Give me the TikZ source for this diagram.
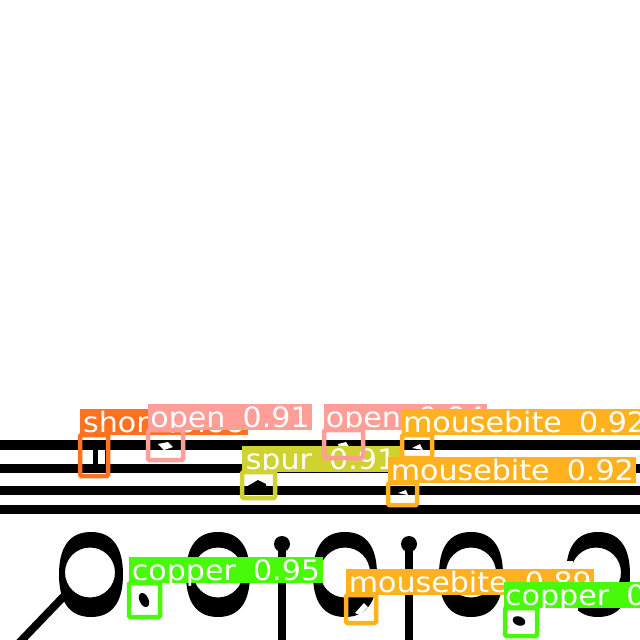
\documentclass[tikz,border=0pt]{standalone}
\usepackage{fontspec}
\setmainfont[FakeStretch=1.07,WordSpace=1.8]{DejaVu Sans}
\tikzset{
    trace/.style={line width=6.6pt},
    pin/.style={line width=5pt},
    flaw/.style={fill=white,draw=none},
    tag/.style={anchor=north west,inner xsep=0.6pt,inner ysep=0pt,text=white,
        font=\fontsize{20}{20}\selectfont,minimum height=18.4pt,text height=16.6pt,text depth=1.8pt},
    box/.style={draw,line width=3.2pt,rounded corners=1pt},
}
\definecolor{shortc}{HTML}{FF701F}
\definecolor{openc}{HTML}{FF9D97}
\definecolor{spurc}{HTML}{CFD231}
\definecolor{bitec}{HTML}{FFB21D}
\definecolor{copperc}{HTML}{48F90A}

\begin{document}
\begin{tikzpicture}[x=0.025cm,y=-0.025cm]
    \useasboundingbox[fill=white] (0,0) rectangle (640,640);
    \clip (0,0) rectangle (640,640);

    % Traces
    \draw[trace] (0,445) -- (640,445);
    \draw[trace] (0,468.5) -- (640,468.5);
    \draw[trace] (0,490.5) -- (640,490.5);
    \draw[trace] (0,509.5) -- (640,509.5);

    % Rings
    \foreach \cx/\ix in {91/90, 218/218, 345/345, 471/471, 598/596} {
        \fill[even odd rule] (\cx-32,574.5)
            .. controls (\cx-32,546.5) and (\cx-21,532) .. (\cx,532)
            .. controls (\cx+21,532) and (\cx+32,546.5) .. (\cx+32,574.5)
            .. controls (\cx+32,602.5) and (\cx+21,617) .. (\cx,617)
            .. controls (\cx-21,617) and (\cx-32,602.5) .. (\cx-32,574.5) -- cycle
            (\ix,572.5) circle [radius=25];
    }
    \fill[white] (555,561) rectangle (573,575);
    \fill[white] (555,575) rectangle (578,625);
    \draw[line width=5.6pt] (66,594) -- (18,644);

    % Pins
    \foreach \px in {282,409} {
        \fill (\px,544) circle [radius=8];
        \draw[pin] (\px,544) -- (\px,645);
    }

    % Defects
    \fill (93,450) rectangle (98,464);
    \fill (105,450) rectangle (108,464);
    \fill[flaw] (158,444) -- (168,442) -- (173,447) -- (164,450) -- cycle;
    \fill (246,487) -- (258,480) -- (266,484) -- (266,487) -- cycle;
    \fill[flaw] (338,444) -- (346,442) -- (350,448) -- (340,450) -- cycle;
    \fill[flaw] (412,448) -- (420,444) -- (423,450) -- cycle;
    \fill[flaw] (398,493) -- (406,490) -- (408,495) -- cycle;
    \fill[flaw] (355,613) -- (364,603) -- (368,607) -- (360,615) -- cycle;
    \fill[rotate around={25:(144,600)}] (144,600) ellipse [x radius=4.5, y radius=7.5];
    \fill[rotate around={70:(519,621)}] (519,621) ellipse [x radius=4.5, y radius=6.5];

    % Detections
    \node[tag,fill=shortc,minimum width=168*0.7087pt] (shorttag) at (80,409) {short 0.88};
    \draw[box,shortc] (80,435) rectangle (108,476);

    \node[tag,fill=openc,minimum width=164*0.7087pt] (opentag) at (148,404) {open 0.91};
    \draw[box,openc] (148,430) rectangle (183,460);

    \node[tag,fill=spurc,minimum width=158*0.7087pt] (spurtag) at (242,446) {spur 0.91};
    \draw[box,spurc] (242,472) rectangle (275,498);

    \node[tag,fill=openc,minimum width=163*0.7087pt] (opentagb) at (324,404) {open 0.94};
    \draw[box,openc] (324,430) rectangle (363,458);

    \node[tag,fill=bitec,minimum width=240*0.7087pt] (bitetag) at (402,409) {mousebite 0.92};
    \draw[box,bitec] (402,435) rectangle (432,458);

    \node[tag,fill=bitec,minimum width=249*0.7087pt] (bitetagb) at (388,457) {mousebite 0.92};
    \draw[box,bitec] (388,483) rectangle (417,505);

    \node[tag,fill=copperc,minimum width=194*0.7087pt] (coppertag) at (129,557) {copper 0.95};
    \draw[box,copperc] (129,583) rectangle (160,617);

    \node[tag,fill=bitec,minimum width=249*0.7087pt] (bitetagc) at (346,569) {mousebite 0.89};
    \draw[box,bitec] (346,595) rectangle (376,623);

    \node[tag,fill=copperc,minimum width=136*0.7087pt] (coppertagb) at (504,582) {copper 0};
    \draw[box,copperc] (505,608) rectangle (537,636);
\end{tikzpicture}
\end{document}
